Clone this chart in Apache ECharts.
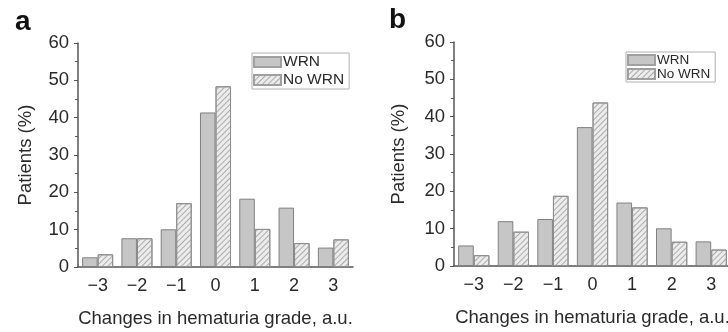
<!DOCTYPE html>
<html>
<head>
<meta charset="utf-8">
<script src="https://cdn.jsdelivr.net/npm/echarts@6/dist/echarts.min.js"></script>
<style>
  html, body { margin: 0; padding: 0; background: #fff; }
  #chart { width: 728px; height: 332px; }
</style>
</head>
<body>
<div id="chart"></div>
<script>
// hematuria grade change categories
var grades = ['\u22123', '\u22122', '\u22121', '0', '1', '2', '3'];

// panel a
var wrnA = [2.6, 7.7, 10.1, 41.4, 18.3, 15.9, 5.2];
var noWrnA = [3.4, 7.7, 17.1, 48.4, 10.2, 6.4, 7.4];

// panel b
var wrnB = [5.5, 12.0, 12.6, 37.2, 17.0, 10.1, 6.6];
var noWrnB = [2.9, 9.2, 18.8, 43.8, 15.7, 6.5, 4.4];

var font = "'Liberation Sans', Arial, sans-serif";
var ink = '#2a2a2a';
var axisCol = '#555';

var chart = echarts.init(document.getElementById('chart'));

var hatch = {
  symbol: 'rect',
  symbolSize: 1,
  dashArrayX: [1, 0],
  dashArrayY: [1, 2.2],
  rotation: -Math.PI / 4,
  color: '#ababab'
};

function xAxisFor(idx) {
  return {
    type: 'category',
    gridIndex: idx,
    data: grades,
    axisLine: { lineStyle: { color: axisCol, width: 1.5 } },
    axisTick: { alignWithLabel: true, length: 4, lineStyle: { color: axisCol } },
    axisLabel: { color: ink, fontSize: 18, fontFamily: font, margin: 10 },
    name: 'Changes in hematuria grade, a.u.',
    nameLocation: 'middle',
    nameGap: 42,
    nameTextStyle: { color: ink, fontSize: 18.5, fontFamily: font }
  };
}

function yAxisFor(idx, gap) {
  return {
    type: 'value',
    gridIndex: idx,
    min: 0,
    max: 60,
    interval: 10,
    axisLine: { show: true, lineStyle: { color: axisCol, width: 1.5 } },
    axisTick: { show: true, length: 4, lineStyle: { color: axisCol } },
    minorTick: { show: true, splitNumber: 2, length: 3, lineStyle: { color: axisCol } },
    splitLine: { show: false },
    axisLabel: { color: ink, fontSize: 18.5, fontFamily: font, margin: 9 },
    name: 'Patients (%)',
    nameLocation: 'middle',
    nameGap: gap,
    nameTextStyle: { color: ink, fontSize: 18.5, fontFamily: font }
  };
}

function barsFor(idx, wrn, noWrn) {
  return [
    {
      name: 'WRN',
      type: 'bar',
      xAxisIndex: idx,
      yAxisIndex: idx,
      data: wrn,
      barGap: '0%',
      barCategoryGap: '21%',
      itemStyle: { color: '#c6c6c6', borderColor: '#808080', borderWidth: 1 }
    },
    {
      name: 'No WRN',
      type: 'bar',
      xAxisIndex: idx,
      yAxisIndex: idx,
      data: noWrn,
      barGap: '0%',
      barCategoryGap: '21%',
      itemStyle: { color: '#ececec', borderColor: '#8e8e8e', borderWidth: 1, decal: hatch }
    }
  ];
}

function legendAt(left, top, gap, size) {
  return {
    left: left,
    top: top,
    orient: 'vertical',
    itemWidth: 27,
    itemHeight: 10,
    itemGap: gap,
    padding: [1, 5, 1, 1],
    borderColor: '#b0b0b0',
    borderWidth: 1,
    icon: 'rect',
    itemStyle: { borderColor: '#a0a0a0' },
    textStyle: { color: ink, fontSize: size, fontFamily: font, padding: [0, 0, 0, -3] },
    data: ['WRN', 'No WRN']
  };
}

chart.setOption({
  animation: false,
  title: [
    { text: 'a', left: 10, top: 3, textStyle: { fontSize: 28, fontWeight: 'bold', color: '#111', fontFamily: font } },
    { text: 'b', left: 384, top: 1, textStyle: { fontSize: 28, fontWeight: 'bold', color: '#111', fontFamily: font } }
  ],
  legend: [legendAt(252, 53, 2, 15.5), legendAt(626, 52, 0, 13.5)],
  grid: [
    { left: 78, top: 43, width: 275, height: 224, outerBoundsMode: 'none' },
    { left: 454, top: 42, width: 277, height: 224, outerBoundsMode: 'none' }
  ],
  xAxis: [xAxisFor(0), xAxisFor(1)],
  yAxis: [yAxisFor(0, 43), yAxisFor(1, 46)],
  series: barsFor(0, wrnA, noWrnA).concat(barsFor(1, wrnB, noWrnB))
});

window.addEventListener('resize', function () {
  chart.resize();
});
</script>
</body>
</html>
